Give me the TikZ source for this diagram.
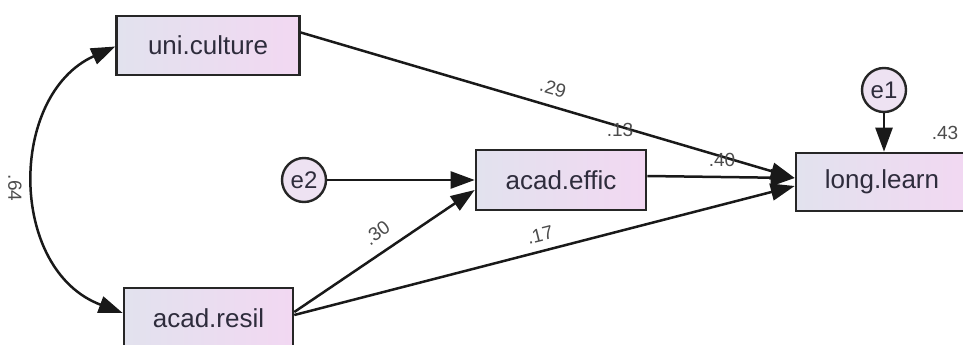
\documentclass[tikz,border=0pt]{standalone}
\usepackage{fontspec}
\setmainfont{Liberation Sans}
\usetikzlibrary{arrows.meta,calc}
\definecolor{txt}{HTML}{2E2C3C}
\definecolor{boxl}{HTML}{E2E2EE}
\definecolor{boxr}{HTML}{F2D8F2}
\definecolor{circ}{HTML}{EEE2F2}
\tikzset{
  obs/.style={draw=black!85, line width=2.6pt, left color=boxl, right color=boxr,
    text=txt, font=\fontsize{26}{28}\selectfont, inner sep=0pt},
  err/.style={circle, draw=black!85, line width=2.4pt, fill=circ, text=txt,
    minimum size=44pt, inner sep=0pt, font=\fontsize{24}{26}\selectfont},
  path/.style={line width=2.5pt, black!90, -{Triangle[length=24pt,width=17pt]}},
  est/.style={text=black!70, font=\fontsize{19}{21}\selectfont, inner sep=0pt}
}
\begin{document}
\begin{tikzpicture}[x=1pt,y=-1pt]
\clip (0,0) rectangle (963,345);
\fill[white] (0,0) rectangle (963,345);
\node[obs, minimum width=183pt, minimum height=59pt] (uc) at (208,45.5) {uni.culture};
\node[obs, minimum width=169pt, minimum height=60pt] (ar) at (208.5,318) {acad.resil};
\node[obs, minimum width=170pt, minimum height=60pt] (ae) at (561,180) {acad.effic};
\node[obs, minimum width=172pt, minimum height=58pt] (ll) at (882,182) {long.learn};
\node[err] (e2) at (304,180) {e2};
\node[err] (e1) at (884,90) {e1};
% connectors
\draw[path] ($(uc.east)+(0,-13)$) -- ($(ll.west)+(0,-4)$);
\draw[path] ($(ae.east)+(0,-4)$) -- ($(ll.west)+(0,-4)$);
\draw[path] ($(ar.east)+(0,-3)$) -- ($(ll.west)+(0,4)$);
\draw[path] ($(ar.east)+(0,-6)$) -- ($(ae.west)+(0,10)$);
\draw[path] (e2) -- (ae.west);
\draw[path] (e1) -- (ll.north -| e1);
\draw[line width=2.5pt, black!90, {Triangle[length=24pt,width=17pt]}-{Triangle[length=24pt,width=17pt]}]
  ($(uc.west)+(0,1)$) .. controls (8,95) and (8,270) .. ($(ar.west)+(0,-5)$);
% estimates
\node[est, rotate=-16] (l29) at (553,88) {.29};
\node[est] (l13) at (620,130) {.13};
\node[est] (l40) at (722,160) {.40};
\node[est, rotate=14] (l17) at (540,235) {.17};
\node[est, rotate=36] (l30) at (377,233) {.30};
\node[est, rotate=-90] (l64) at (15,188) {.64};
\node[est] (l43) at (945,133) {.43};
\end{tikzpicture}
\end{document}
